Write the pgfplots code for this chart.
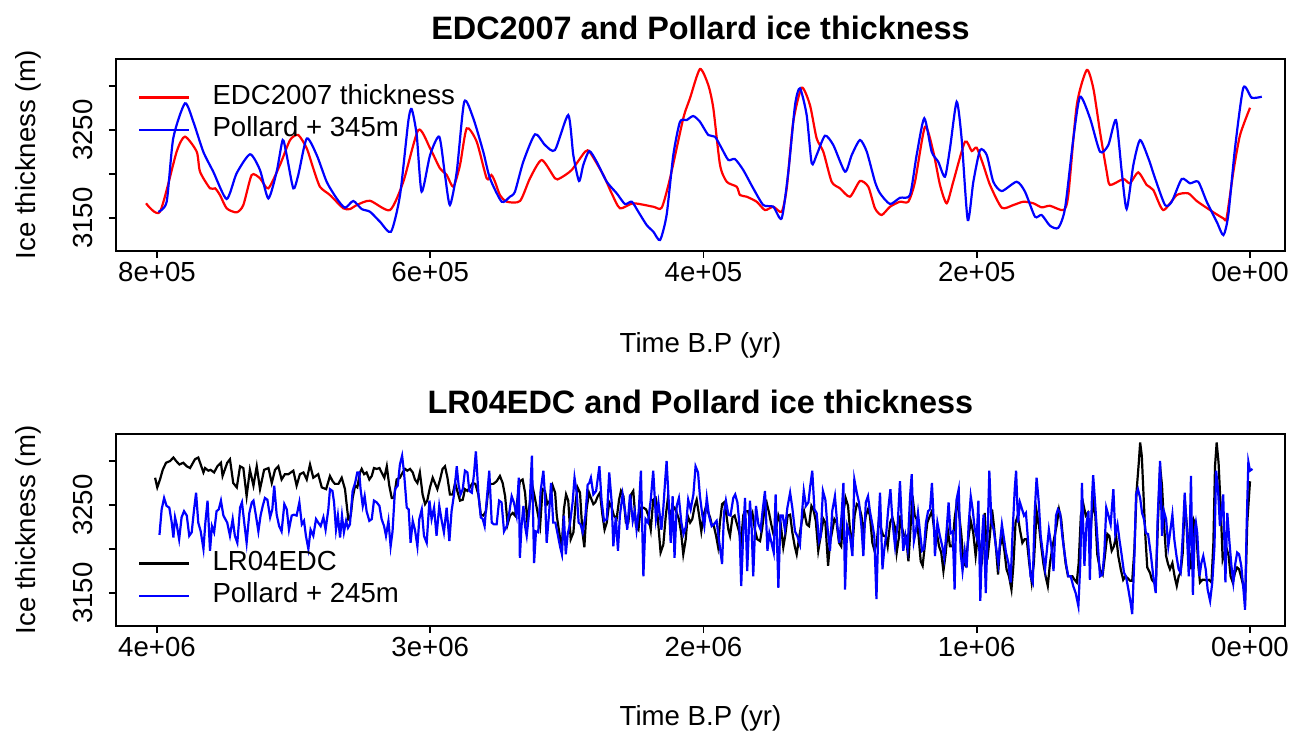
\documentclass[border=0pt]{standalone}
\usepackage{fontspec}
\setmainfont{Liberation Sans}
\usepackage{pgfplots}
\pgfplotsset{compat=1.18}
\begin{document}
\begin{tikzpicture}[font=\fontsize{13.8}{16}\selectfont]
\path[use as bounding box] (0,0) rectangle (647pt,367pt);
\pgfplotsset{rstyle/.style={
  scale only axis, width=584.5pt, height=96pt, clip=false,
  x dir=reverse, ymin=3112.5, ymax=3330.7,
  axis line style={line width=0.9pt},
  tick align=outside, major tick length=3.5pt,
  every tick/.style={line width=0.9pt, black},
  xtick pos=left, ytick pos=left,
  ytick={3150,3200,3250,3300}, yticklabels={},
  xticklabel style={anchor=north, inner sep=0pt, yshift=-2pt},
  /pgf/number format/assume math mode=true,
  every axis title shift=0pt,
  ylabel={Ice thickness (m)},
  xlabel={Time B.P (yr)},
  ylabel style={at={(axis description cs:-0.0753,0.5)}, anchor=center},
  legend cell align=left,
  legend image code/.code={\draw[##1, line width=1.1pt] (0pt,0pt) -- (25pt,0pt);},
  every axis plot/.append style={line width=1.1pt},
}}
% ---------------- top panel ----------------
\begin{axis}[rstyle, at={(58pt,337.5pt)}, anchor=north west,
  xmin=-25.6, xmax=830.0,
  xtick={800,600,400,200,0}, xticklabels={8e+05,6e+05,4e+05,2e+05,0e+00},
  title={EDC2007 and Pollard ice thickness},
  title style={font=\bfseries\fontsize{16.2}{19}\selectfont, at={(axis description cs:0.5,1.1615)}, anchor=center},
  xlabel style={at={(axis description cs:0.5,-0.4896)}, anchor=center},
  legend style={draw=none, fill=none, at={(axis description cs:0.0188,0.886)}, anchor=north west,
    inner sep=0pt, column sep=11pt, nodes={inner sep=0pt, text height=11.5pt, text depth=4.7pt}},
]
\addplot[red, smooth, tension=0.4] coordinates {
(808.0,3166.7)(797.8,3157.1)(785.6,3225.3)(779.5,3242.4)(770.9,3225.3)(768.5,3202.6)(761.2,3183.7)(757.5,3183.7)(753.9,3176.1)(749.0,3161.0)(741.7,3156.4)(736.8,3164.7)(730.7,3198.8)(724.6,3195.1)(718.5,3183.7)(710.0,3210.2)(702.6,3238.6)(696.6,3244.3)(690.4,3229.2)(685.6,3206.4)(680.7,3185.5)(673.4,3176.1)(663.6,3161.0)(658.7,3160.2)(653.8,3164.7)(644.1,3169.6)(629.5,3159.0)(619.7,3191.2)(608.7,3250.0)(600.1,3229.2)(592.9,3206.4)(587.9,3198.8)(583.1,3185.5)(578.2,3210.2)(573.3,3251.9)(566.0,3236.7)(558.7,3195.1)(555.2,3198.8)(552.6,3191.2)(549.0,3176.1)(544.0,3168.5)(534.3,3169.3)(527.0,3195.1)(518.4,3215.9)(508.7,3195.1)(505.1,3195.1)(496.5,3204.5)(486.7,3225.3)(483.1,3224.6)(473.3,3198.8)(467.2,3178.0)(461.1,3161.0)(451.4,3166.7)(436.7,3162.8)(430.6,3161.7)(424.5,3195.1)(414.8,3263.3)(409.9,3286.0)(402.6,3319.3)(396.5,3301.1)(392.8,3274.6)(387.9,3210.2)(383.0,3191.2)(375.7,3185.5)(373.3,3176.1)(368.4,3174.2)(361.1,3168.5)(355.0,3159.0)(348.9,3162.8)(342.8,3157.1)(339.1,3183.7)(334.3,3259.4)(328.1,3298.0)(322.1,3278.4)(317.2,3240.5)(312.3,3225.3)(306.2,3191.2)(300.1,3183.7)(292.8,3174.2)(285.5,3192.0)(279.4,3185.5)(274.5,3161.0)(269.6,3153.4)(263.5,3162.8)(256.2,3168.5)(250.1,3168.5)(245.2,3191.2)(237.9,3253.7)(231.8,3225.3)(226.9,3187.5)(222.0,3166.7)(217.2,3191.2)(208.6,3236.7)(203.7,3226.1)(200.1,3229.9)(195.2,3210.2)(190.3,3187.5)(181.7,3161.7)(173.3,3164.7)(165.9,3168.5)(158.6,3166.7)(152.5,3162.1)(146.4,3163.9)(136.6,3159.0)(133.0,3176.1)(126.8,3278.4)(119.5,3318.2)(114.7,3297.4)(109.8,3248.0)(104.9,3202.6)(102.5,3187.5)(92.7,3194.3)(87.9,3189.4)(81.8,3201.9)(75.6,3187.5)(70.8,3181.8)(63.5,3159.0)(53.6,3176.1)(45.2,3178.0)(39.0,3169.3)(29.3,3159.0)(19.5,3149.6)(17.1,3150.3)(12.2,3202.6)(7.3,3244.3)(0.0,3275.3)
};
\addlegendentry{EDC2007 thickness}
\addplot[blue, smooth, tension=0.4] coordinates {
(799.0,3157.1)(792.9,3168.5)(788.1,3240.5)(779.5,3280.3)(773.4,3259.4)(766.1,3225.3)(758.8,3202.6)(749.0,3171.6)(741.7,3200.8)(731.9,3222.4)(724.6,3204.5)(718.5,3172.3)(712.4,3202.6)(708.0,3238.6)(705.1,3221.6)(700.2,3183.7)(696.6,3198.8)(690.4,3240.3)(683.1,3221.6)(675.8,3191.2)(668.5,3172.3)(662.4,3161.7)(656.3,3169.3)(650.2,3160.2)(644.1,3157.1)(636.8,3145.8)(628.7,3134.4)(622.1,3176.1)(616.1,3259.4)(613.6,3273.8)(609.9,3244.3)(606.3,3179.9)(600.1,3221.6)(593.4,3242.4)(589.2,3198.8)(585.6,3164.7)(580.6,3202.6)(575.1,3282.1)(568.5,3263.3)(561.2,3225.3)(556.3,3195.1)(547.7,3168.5)(541.7,3174.2)(538.0,3179.9)(531.9,3213.9)(523.3,3245.1)(516.0,3232.9)(508.7,3227.2)(499.0,3267.0)(495.3,3221.6)(491.1,3192.0)(488.0,3210.2)(483.6,3226.1)(478.2,3213.9)(470.8,3191.2)(463.5,3178.0)(457.5,3165.9)(452.5,3168.5)(447.7,3157.1)(441.6,3142.0)(436.7,3134.4)(431.8,3125.0)(427.0,3153.4)(422.1,3221.6)(417.2,3259.4)(412.3,3261.3)(407.5,3265.9)(402.6,3259.4)(396.5,3244.3)(391.6,3242.4)(386.7,3229.2)(381.8,3215.9)(377.0,3217.0)(370.9,3204.5)(363.6,3183.7)(356.2,3164.7)(348.9,3162.8)(342.8,3149.6)(337.9,3202.6)(333.0,3278.4)(329.4,3297.4)(324.5,3267.0)(320.8,3212.1)(317.2,3221.6)(311.1,3243.5)(305.0,3232.9)(296.4,3202.6)(291.5,3221.6)(285.5,3238.6)(280.5,3225.3)(274.5,3191.2)(270.8,3178.0)(263.5,3165.9)(256.2,3173.0)(248.9,3176.1)(244.0,3221.6)(238.4,3263.3)(233.0,3225.3)(228.2,3213.9)(223.3,3196.9)(219.6,3229.2)(214.7,3282.1)(211.1,3240.5)(206.6,3147.7)(202.5,3191.2)(197.6,3227.2)(192.7,3221.6)(187.9,3191.2)(181.7,3180.6)(170.8,3191.2)(164.7,3179.9)(157.4,3151.5)(152.5,3153.4)(146.4,3141.2)(140.3,3138.9)(135.4,3161.0)(129.3,3240.5)(124.4,3287.8)(117.1,3263.3)(109.8,3225.3)(103.7,3232.9)(98.1,3261.3)(93.9,3202.6)(90.3,3160.2)(85.4,3210.2)(80.5,3238.6)(74.4,3217.8)(69.5,3195.1)(62.2,3164.7)(57.3,3168.5)(50.0,3194.3)(43.9,3189.4)(37.9,3191.2)(31.7,3168.5)(24.4,3145.8)(19.5,3130.6)(15.9,3153.4)(11.0,3229.2)(4.9,3298.0)(-1.2,3286.7)(-8.6,3287.8)
};
\addlegendentry{Pollard + 345m}
\node[rotate=90, anchor=center, inner sep=0pt] at ([xshift=-16.5pt]axis cs:830,3150) {3150};
\node[rotate=90, anchor=center, inner sep=0pt] at ([xshift=-16.5pt]axis cs:830,3250) {3250};
\end{axis}
% ---------------- bottom panel ----------------
\begin{axis}[rstyle, at={(58pt,150pt)}, anchor=north west,
  xmin=-128.1, xmax=4150.1,
  xtick={4000,3000,2000,1000,0}, xticklabels={4e+06,3e+06,2e+06,1e+06,0e+00},
  title={LR04EDC and Pollard ice thickness},
  title style={font=\bfseries\fontsize{16.2}{19}\selectfont, at={(axis description cs:0.5,1.1667)}, anchor=center},
  xlabel style={at={(axis description cs:0.5,-0.479)}, anchor=center},
  legend style={draw=none, fill=none, at={(axis description cs:0.0188,0.412)}, anchor=north west,
    inner sep=0pt, column sep=11pt, nodes={inner sep=0pt, text height=11.5pt, text depth=4.7pt}},
]
\addplot[black] coordinates {
(4007,3281)(3999,3270)(3989,3279)(3979,3290)(3967,3298)(3952,3300)(3940,3304)(3930,3300)(3918,3296)(3904,3298)(3891,3294)(3879,3292)(3861,3302)(3849,3304)(3830,3287)(3824,3292)(3812,3289)(3804,3290)(3791,3287)(3779,3294)(3766,3298)(3760,3283)(3743,3298)(3733,3302)(3721,3275)(3708,3270)(3696,3294)(3684,3292)(3672,3260)(3660,3290)(3647,3272)(3635,3294)(3623,3268)(3608,3290)(3592,3292)(3580,3275)(3568,3290)(3556,3294)(3544,3279)(3532,3285)(3519,3285)(3501,3289)(3489,3272)(3477,3285)(3464,3287)(3452,3279)(3440,3296)(3428,3281)(3410,3285)(3397,3270)(3381,3268)
(3367,3283)(3357,3277)(3349,3274)(3336,3274)(3324,3281)(3312,3268)(3300,3234)(3291,3238)(3284,3258)(3275,3272)(3267,3270)(3257,3287)(3251,3291)(3242,3285)(3233,3287)(3223,3279)(3214,3283)(3206,3292)(3196,3291)(3186,3292)(3178,3287)(3168,3281)(3159,3294)(3150,3272)(3141,3258)(3133,3258)(3123,3279)(3111,3281)(3101,3287)(3092,3291)(3084,3289)(3074,3291)(3064,3287)(3056,3279)(3047,3275)(3038,3287)(3028,3262)(3019,3251)(3011,3255)(3001,3270)(2991,3281)(2983,3275)(2974,3268)(2964,3279)(2955,3291)(2946,3294)(2937,3281)(2928,3262)(2918,3262)(2909,3275)(2901,3266)(2891,3255)(2881,3256)(2873,3268)(2864,3266)(2855,3270)(2845,3275)(2835,3274)(2824,3262)(2815,3239)(2806,3238)(2796,3243)(2787,3270)(2779,3274)(2769,3274)(2757,3277)(2745,3283)(2735,3275)(2726,3260)(2717,3228)(2708,3238)(2698,3241)(2690,3238)(2681,3256)
(2672,3277)(2662,3279)(2653,3264)(2645,3232)(2635,3253)(2625,3270)(2617,3258)(2608,3243)(2598,3226)(2589,3268)(2580,3266)(2572,3251)(2562,3255)(2552,3272)(2543,3264)(2537,3238)(2528,3219)(2519,3200)(2511,3245)(2503,3262)(2495,3255)(2486,3211)(2476,3219)(2468,3253)(2461,3270)(2452,3264)(2443,3219)(2436,3202)(2428,3245)(2419,3264)(2412,3258)(2403,3251)(2396,3253)(2387,3260)(2379,3264)(2370,3239)(2362,3222)(2354,3230)(2345,3253)(2336,3247)(2328,3238)(2318,3234)(2309,3256)(2302,3266)(2293,3260)(2284,3230)(2275,3230)(2265,3262)(2257,3266)(2247,3226)(2238,3222)(2230,3247)(2220,3247)(2210,3245)(2202,3238)(2193,3222)(2184,3256)(2175,3258)(2167,3234)(2157,3196)(2147,3205)(2138,3238)(2131,3256)(2123,3239)(2114,3245)(2106,3247)(2098,3241)(2090,3234)(2082,3219)(2074,3194)(2065,3211)(2058,3238)(2049,3230)(2041,3234)(2032,3249)(2025,3256)(2016,3238)(2008,3220)(2000,3238)(1992,3247)(1982,3241)
(1976,3236)(1970,3228)(1962,3226)(1954,3215)(1947,3203)(1940,3230)(1932,3251)(1925,3253)(1918,3243)(1909,3222)(1903,3215)(1894,3236)(1886,3238)(1879,3230)(1870,3220)(1863,3207)(1854,3239)(1846,3243)(1837,3243)(1830,3234)(1821,3241)(1812,3222)(1803,3211)(1793,3209)(1785,3224)(1776,3247)(1769,3253)(1760,3241)(1752,3228)(1744,3217)(1736,3220)(1726,3238)(1718,3230)(1708,3202)(1701,3215)(1692,3238)(1683,3239)(1675,3219)(1666,3203)(1659,3194)(1649,3215)(1641,3230)(1632,3243)(1622,3228)(1614,3226)(1605,3249)(1598,3245)(1589,3232)(1580,3198)(1571,3215)(1561,3234)(1554,3230)(1544,3181)(1537,3207)(1528,3222)(1521,3234)(1513,3230)(1504,3207)(1496,3203)(1488,3241)(1480,3258)(1471,3249)(1464,3222)(1454,3207)(1447,3238)(1439,3251)(1431,3249)(1422,3238)(1415,3218)(1406,3238)(1398,3245)(1391,3238)(1382,3207)(1374,3198)(1366,3207)(1358,3234)(1349,3222)(1342,3215)(1333,3215)(1326,3203)(1317,3230)(1309,3236)(1299,3224)(1293,3196)(1284,3215)
(1281,3238)(1275,3226)(1266,3215)(1259,3215)(1250,3186)(1242,3226)(1235,3260)(1227,3238)(1220,3234)(1213,3215)(1205,3186)(1198,3181)(1189,3207)(1181,3230)(1171,3238)(1164,3243)(1155,3220)(1147,3220)(1138,3203)(1130,3196)(1122,3175)(1114,3194)(1106,3222)(1098,3203)(1089,3203)(1081,3234)(1073,3253)(1065,3241)(1056,3215)(1049,3184)(1041,3181)(1031,3211)(1022,3232)(1013,3219)(1004,3192)(996,3215)(988,3203)(980,3190)(971,3241)(961,3188)(952,3215)(944,3245)(937,3226)(930,3203)(922,3171)(915,3203)(906,3213)(898,3196)(891,3177)(882,3169)(873,3154)(866,3181)(858,3230)(850,3238)(842,3222)(833,3207)(825,3211)(817,3211)(808,3184)(799,3162)(791,3184)(781,3243)(772,3226)(764,3203)(756,3183)(748,3169)(740,3158)(732,3184)(723,3202)(715,3215)(708,3226)(699,3245)(691,3234)(683,3207)(675,3184)(666,3169)(659,3169)(650,3169)(642,3165)(634,3162)(627,3184)(619,3238)(610,3251)(601,3238)(594,3241)
(586,3211)(579,3238)(573,3253)(566,3238)(559,3194)(549,3177)(539,3171)(531,3192)(522,3217)(515,3215)(506,3198)(498,3203)(490,3215)(482,3192)(473,3177)(464,3165)(456,3169)(448,3167)(439,3164)(431,3164)(423,3200)(415,3266)(407,3298)(402,3321)(396,3306)(390,3264)(383,3215)(376,3179)(366,3173)(359,3165)(351,3162)(344,3165)(337,3230)(329,3294)(322,3272)(315,3230)(307,3192)(300,3183)(293,3177)(284,3184)(276,3169)(268,3158)(261,3169)(254,3173)(246,3196)(239,3256)(232,3230)(224,3200)(217,3177)(210,3207)(205,3232)(198,3226)(189,3181)(183,3162)(174,3165)(166,3165)(158,3164)(150,3165)(141,3162)(134,3207)(128,3294)(122,3321)(115,3298)(107,3245)(100,3188)(93,3196)(85,3200)(78,3192)(71,3169)(63,3162)(55,3173)(47,3179)(40,3177)(33,3169)(24,3158)(17,3150)(10,3230)(0,3277)
};
\addlegendentry{LR04EDC}
\addplot[blue] coordinates {
(3991,3216)(3983,3245)(3974,3258)(3965,3249)(3955,3247)(3946,3230)(3940,3213)(3934,3236)(3928,3228)(3919,3211)(3910,3236)(3901,3243)(3891,3238)(3882,3215)(3873,3219)(3865,3243)(3857,3264)(3849,3230)(3840,3220)(3830,3200)(3823,3230)(3815,3255)(3806,3198)(3799,3226)(3791,3219)(3782,3243)(3774,3245)(3766,3255)(3757,3238)(3750,3234)(3743,3230)(3733,3215)(3723,3234)(3715,3215)(3706,3207)(3696,3247)(3689,3253)(3680,3228)(3672,3207)(3662,3241)(3653,3253)(3647,3255)(3638,3238)(3629,3220)(3621,3238)(3613,3249)(3605,3258)(3596,3256)(3586,3236)(3578,3245)(3571,3272)(3562,3239)(3553,3226)(3544,3220)(3534,3251)(3525,3245)(3517,3222)(3507,3238)(3499,3239)(3489,3238)(3479,3253)(3470,3228)(3462,3232)(3455,3215)(3446,3200)(3438,3222)(3428,3215)(3418,3234)(3410,3230)(3401,3226)(3391,3236)(3383,3222)(3373,3245)
(3367,3268)(3358,3266)(3352,3253)(3345,3222)(3338,3238)(3330,3213)(3323,3238)(3316,3219)(3308,3232)(3301,3224)(3294,3228)(3284,3266)(3275,3275)(3267,3287)(3260,3287)(3255,3268)(3247,3249)(3240,3260)(3233,3243)(3223,3232)(3214,3234)(3206,3255)(3196,3253)(3186,3249)(3178,3234)(3169,3226)(3162,3215)(3153,3232)(3145,3203)(3138,3220)(3129,3268)(3119,3272)(3111,3296)(3103,3306)(3096,3287)(3086,3247)(3079,3245)(3072,3207)(3064,3232)(3056,3222)(3047,3203)(3040,3234)(3031,3245)(3023,3215)(3013,3207)(3003,3255)(2995,3234)(2986,3247)(2977,3215)(2967,3249)(2958,3232)(2950,3219)(2940,3247)(2930,3209)(2922,3243)(2913,3262)(2903,3294)(2896,3272)(2889,3262)(2881,3268)(2873,3289)(2864,3287)(2857,3266)(2848,3264)(2840,3285)(2833,3311)(2824,3264)(2815,3236)(2808,3234)(2801,3226)(2794,3253)(2784,3289)(2775,3230)(2767,3228)(2757,3228)(2748,3255)(2739,3253)(2730,3220)(2720,3226)(2711,3241)(2702,3260)(2694,3253)(2684,3238)(2676,3281)
(2672,3190)(2666,3226)(2659,3249)(2653,3226)(2647,3215)(2637,3245)(2628,3306)(2620,3184)(2613,3220)(2605,3219)(2596,3266)(2586,3289)(2580,3260)(2574,3207)(2565,3241)(2558,3275)(2550,3230)(2542,3230)(2535,3219)(2525,3203)(2518,3194)(2511,3238)(2504,3194)(2497,3217)(2489,3228)(2479,3253)(2472,3281)(2464,3264)(2457,3230)(2450,3228)(2442,3219)(2432,3238)(2424,3273)(2418,3275)(2412,3281)(2403,3262)(2393,3266)(2381,3294)(2373,3255)(2364,3232)(2354,3234)(2345,3287)(2336,3253)(2330,3203)(2321,3236)(2313,3198)(2306,3238)(2296,3262)(2287,3243)(2279,3222)(2269,3262)(2259,3232)(2252,3243)(2245,3222)(2237,3243)(2229,3289)(2220,3169)(2212,3234)(2203,3230)(2193,3256)(2184,3289)(2174,3234)(2165,3253)(2154,3222)(2147,3247)(2140,3279)(2135,3300)(2127,3253)(2120,3207)(2113,3260)(2106,3190)(2098,3249)(2090,3258)(2081,3230)(2073,3217)(2064,3226)(2056,3256)(2047,3245)(2037,3262)(2029,3294)(2020,3287)(2013,3260)(2004,3238)(1997,3226)(1988,3258)(1980,3238)
(1970,3226)(1962,3228)(1952,3232)(1942,3207)(1932,3183)(1925,3241)(1918,3255)(1909,3239)(1901,3238)(1891,3258)(1884,3262)(1876,3253)(1869,3230)(1862,3158)(1854,3222)(1848,3258)(1840,3175)(1830,3255)(1824,3226)(1818,3169)(1808,3249)(1799,3228)(1791,3222)(1783,3245)(1775,3266)(1766,3198)(1759,3218)(1751,3207)(1743,3196)(1736,3262)(1726,3156)(1718,3238)(1710,3238)(1702,3222)(1693,3247)(1683,3264)(1675,3247)(1665,3220)(1657,3215)(1647,3205)(1639,3243)(1633,3266)(1625,3249)(1616,3253)(1610,3270)(1602,3289)(1594,3245)(1586,3241)(1577,3209)(1571,3215)(1563,3266)(1554,3256)(1546,3224)(1537,3198)(1529,3243)(1519,3260)(1510,3226)(1503,3207)(1494,3241)(1488,3275)(1482,3154)(1474,3226)(1464,3215)(1455,3192)(1448,3279)(1439,3264)(1431,3253)(1422,3226)(1415,3192)(1406,3253)(1398,3260)(1391,3243)(1382,3228)(1375,3215)(1367,3143)(1360,3226)(1354,3264)(1345,3177)(1339,3198)(1332,3215)(1324,3245)(1316,3268)(1308,3230)(1299,3203)(1289,3230)
(1281,3277)(1275,3234)(1269,3198)(1261,3215)(1253,3200)(1244,3260)(1238,3285)(1230,3209)(1222,3222)(1215,3241)(1208,3220)(1200,3198)(1193,3200)(1186,3230)(1178,3243)(1171,3245)(1164,3275)(1156,3222)(1153,3192)(1144,3230)(1135,3215)(1126,3203)(1119,3190)(1110,3222)(1103,3253)(1096,3218)(1088,3220)(1081,3154)(1074,3256)(1066,3268)(1059,3196)(1052,3175)(1044,3198)(1037,3179)(1030,3226)(1022,3260)(1015,3245)(1007,3222)(1000,3213)(994,3255)(987,3141)(980,3215)(975,3239)(967,3150)(959,3230)(954,3289)(946,3230)(938,3222)(930,3203)(921,3184)(915,3207)(908,3228)(900,3211)(893,3196)(884,3184)(876,3162)(869,3218)(861,3268)(856,3289)(849,3230)(842,3253)(834,3245)(827,3238)(820,3241)(810,3200)(803,3169)(795,3162)(788,3241)(781,3281)(773,3253)(766,3215)(759,3198)(750,3177)(743,3200)(736,3222)(727,3203)(719,3175)(710,3238)(703,3245)(695,3241)(687,3215)(679,3196)(672,3181)(665,3169)(656,3169)(647,3158)(638,3150)(628,3135)(621,3184)(615,3275)(606,3181)(598,3230)(591,3243)
(586,3165)(579,3253)(574,3284)(567,3253)(559,3215)(549,3169)(540,3171)(533,3196)(526,3247)(518,3238)(510,3228)(500,3268)(493,3217)(485,3228)(478,3211)(470,3194)(461,3173)(454,3169)(445,3154)(437,3139)(431,3126)(423,3192)(417,3262)(410,3268)(402,3258)(395,3241)(388,3234)(381,3218)(373,3217)(363,3194)(354,3169)(345,3150)(338,3234)(329,3300)(322,3215)(315,3243)(307,3234)(299,3203)(291,3222)(284,3239)(277,3211)(269,3192)(261,3177)(254,3173)(246,3215)(239,3264)(232,3226)(224,3169)(216,3283)(209,3148)(202,3222)(198,3230)(193,3218)(185,3169)(178,3184)(171,3192)(162,3177)(155,3154)(146,3141)(138,3162)(130,3203)(124,3289)(117,3268)(110,3226)(104,3241)(98,3262)(90,3162)(83,3241)(76,3211)(68,3181)(61,3162)(54,3183)(47,3196)(40,3194)(32,3181)(24,3154)(18,3131)(12,3230)(6,3299)(0,3289)(-9,3291)
};
\addlegendentry{Pollard + 245m}
\node[rotate=90, anchor=center, inner sep=0pt] at ([xshift=-16.5pt]axis cs:4150.1,3150) {3150};
\node[rotate=90, anchor=center, inner sep=0pt] at ([xshift=-16.5pt]axis cs:4150.1,3250) {3250};
\end{axis}
\end{tikzpicture}
\end{document}
